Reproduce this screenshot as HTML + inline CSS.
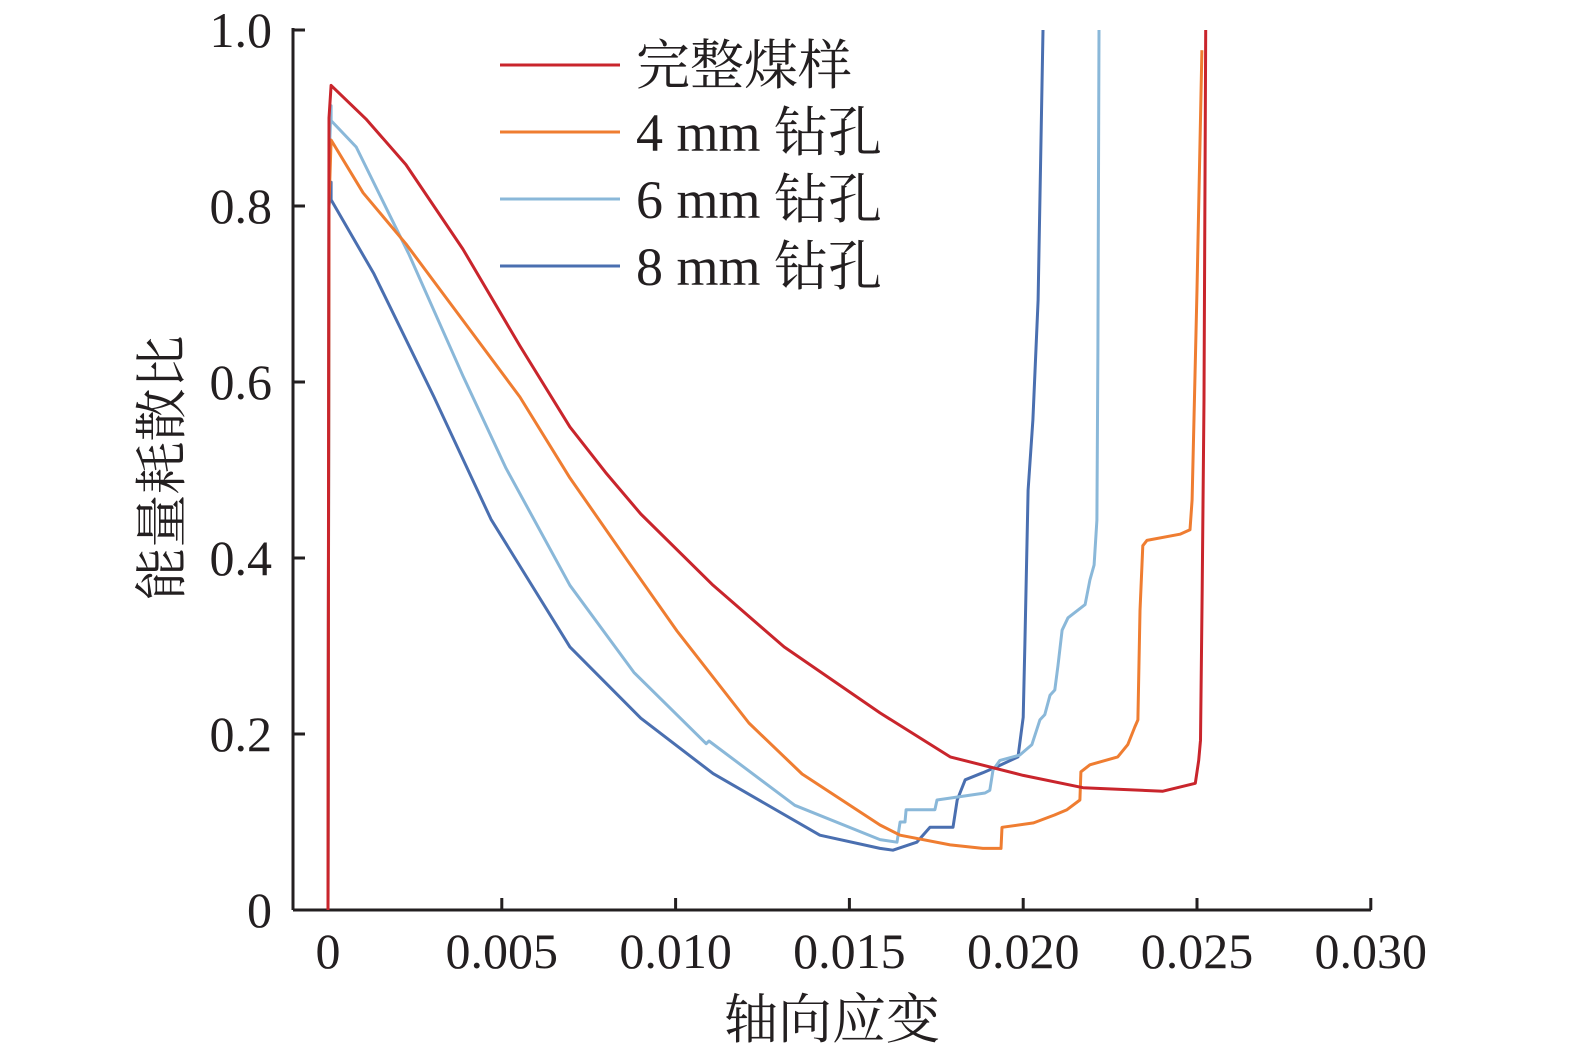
<!DOCTYPE html>
<html><head><meta charset="utf-8"><style>
body{margin:0;background:#fff}
text{font-family:"Liberation Serif","Noto Serif CJK SC",serif;fill:#231f20}
</style></head><body>
<svg id="chart" width="1575" height="1049" viewBox="0 0 1575 1049" xmlns="http://www.w3.org/2000/svg"></svg>
<script>
const xTicks=[0,0.005,0.010,0.015,0.020,0.025,0.030];
const xTickLabels=["0","0.005","0.010","0.015","0.020","0.025","0.030"];
const yTicks=[0,0.2,0.4,0.6,0.8,1.0];
const yTickLabels=["0","0.2","0.4","0.6","0.8","1.0"];
const seriesNames=["完整煤样","4 mm 钻孔","6 mm 钻孔","8 mm 钻孔"];
const seriesColors=["#c9252c","#ef7d31","#8ab8d9","#4a6fb0"];
const redX=[0,0.00003,0.00009,0.00109,0.00224,0.00388,0.00552,0.00696,0.00799,0.009,0.01108,0.01312,0.01588,0.0179,0.020,0.02172,0.02402,0.02495,0.02505,0.0251,0.02515,0.0252,0.02525];
const redY=[0,0.9,0.937,0.899,0.847,0.751,0.641,0.549,0.497,0.45,0.369,0.299,0.224,0.174,0.153,0.139,0.135,0.144,0.17,0.193,0.365,0.58,1.0];
const orangeX=[0,0.00003,0.00009,0.00101,0.00224,0.00409,0.00552,0.00696,0.0086,0.01004,0.01211,0.01364,0.01588,0.01646,0.0179,0.01884,0.01936,0.01939,0.0203,0.0209,0.02126,0.02163,0.02166,0.02192,0.02272,0.02301,0.02321,0.0233,0.02336,0.02344,0.02356,0.02451,0.0248,0.02486,0.02500,0.02514];
const orangeY=[0,0.8,0.875,0.815,0.757,0.659,0.583,0.491,0.398,0.317,0.2125,0.1545,0.0966,0.085,0.074,0.07,0.07,0.094,0.099,0.108,0.114,0.125,0.157,0.165,0.174,0.188,0.208,0.216,0.34,0.414,0.42,0.427,0.432,0.466,0.705,0.977];
const lightX=[0,0.00003,0.00009,0.00009,0.00081,0.00233,0.00388,0.00512,0.00696,0.0088,0.01088,0.01096,0.01343,0.01588,0.01637,0.01646,0.0166,0.01663,0.01746,0.01752,0.0189,0.01904,0.01913,0.01933,0.0199,0.02025,0.02048,0.02062,0.02077,0.02091,0.021,0.02112,0.02129,0.02178,0.02192,0.02204,0.02212,0.02215,0.02218];
const lightY=[0,0.85,0.914,0.897,0.867,0.745,0.607,0.502,0.369,0.27,0.189,0.192,0.119,0.08,0.077,0.1,0.1,0.114,0.114,0.125,0.133,0.136,0.159,0.17,0.176,0.188,0.216,0.222,0.244,0.25,0.278,0.318,0.332,0.347,0.375,0.392,0.443,0.636,1.0];
const darkX=[0,0.00003,0.00009,0.00009,0.00132,0.00305,0.00469,0.00696,0.009,0.01108,0.01415,0.01588,0.01625,0.01694,0.01732,0.01798,0.0181,0.01833,0.01884,0.01925,0.01985,0.02,0.02005,0.02014,0.02028,0.02043,0.02057];
const darkY=[0,0.8,0.827,0.807,0.723,0.583,0.444,0.299,0.218,0.155,0.085,0.07,0.068,0.077,0.094,0.094,0.125,0.148,0.156,0.163,0.174,0.219,0.303,0.477,0.557,0.693,1.0];
const svg=document.getElementById('chart');
const NS='http://www.w3.org/2000/svg';
const X0=328,PX=34760,Y0=910,PY=880,LEFT=293,RIGHT=1371;
const sx=v=>X0+v*PX, sy=v=>Y0-v*PY;
function mk(t,a,p){const e=document.createElementNS(NS,t);for(const k in a)e.setAttribute(k,a[k]);(p||svg).appendChild(e);return e;}
const ax=mk('g',{});


const yl=mk('line',{x1:LEFT,y1:28,x2:LEFT,y2:Y0,stroke:'#231f20','stroke-width':3},ax);


const xl=mk('line',{x1:LEFT,y1:Y0,x2:RIGHT,y2:Y0,stroke:'#231f20','stroke-width':3},ax);


xTicks.forEach((t,i)=>{
 const l=mk('line',{x1:sx(t),y1:Y0,x2:sx(t),y2:Y0-12,stroke:'#231f20','stroke-width':3},ax);
 
 
 const tx=mk('text',{x:sx(t),y:968,'text-anchor':'middle','font-size':50},ax);
 tx.textContent=xTickLabels[i];
 
 
});
yTicks.forEach((t,i)=>{
 const l=mk('line',{x1:LEFT,y1:sy(t),x2:LEFT+12,y2:sy(t),stroke:'#231f20','stroke-width':3},ax);
 
 
 const tx=mk('text',{x:272,y:sy(t)+17,'text-anchor':'end','font-size':50},ax);
 tx.textContent=yTickLabels[i];
 
 
});
const xt=mk('text',{x:832,y:1038,'text-anchor':'middle','font-size':54});
xt.textContent='轴向应变';


const yt=mk('text',{x:180,y:468,'text-anchor':'middle','font-size':53,transform:'rotate(-90 180 468)'});
yt.textContent='能量耗散比';


const allX=[redX,orangeX,lightX,darkX],allY=[redY,orangeY,lightY,darkY];
const snames=['series-intact','series-4mm','series-6mm','series-8mm'];
[3,2,1,0].forEach(i=>{
 const d=allX[i].map((v,j)=>(j?'L':'M')+sx(v).toFixed(1)+' '+sy(allY[i][j]).toFixed(1)).join(' ');
 const p=mk('path',{d:d,fill:'none',stroke:seriesColors[i],'stroke-width':3,'stroke-linejoin':'round'});
 
 
});
const lg=mk('g',{});


seriesNames.forEach((n,i)=>{
 const y=65+i*67;
 const g=mk('g',{},lg);
 
 
 mk('line',{x1:500,y1:y,x2:620,y2:y,stroke:seriesColors[i],'stroke-width':3},g);
 const t=mk('text',{x:636,y:y+19,'font-size':54},g);
 t.textContent=n;
});
</script>
</body></html>
